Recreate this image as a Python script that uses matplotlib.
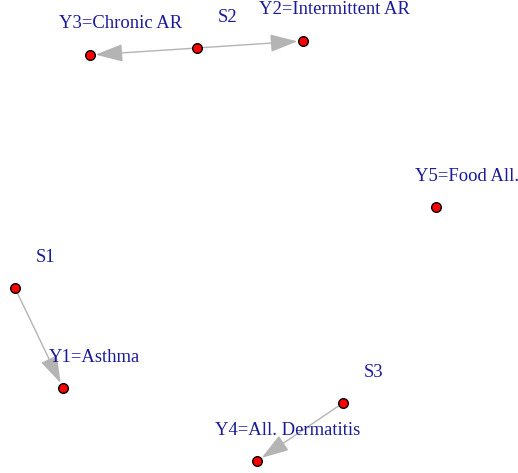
import matplotlib
matplotlib.use("Agg")
import matplotlib.pyplot as plt

# node layout (canvas units, y down)
names = ["S1", "S2", "S3", "Y1=Asthma", "Y2=Intermittent AR", "Y3=Chronic AR",
         "Y4=All. Dermatitis", "Y5=Food All."]
node_x = [15, 197, 343, 63, 303, 90, 257, 436]
node_y = [288, 48, 403, 388, 41, 55, 461, 207]

# directed edges: source -> target
edge_from = ["S1", "S2", "S2", "S3"]
edge_to = ["Y1=Asthma", "Y2=Intermittent AR", "Y3=Chronic AR", "Y4=All. Dermatitis"]

fig = plt.figure(figsize=(5.18, 4.73), dpi=100)
ax = fig.add_axes([0, 0, 1, 1])
ax.set_xlim(0, 518)
ax.set_ylim(473, 0)
ax.axis("off")

pos = {n: (x, y) for n, x, y in zip(names, node_x, node_y)}

for a, b in zip(edge_from, edge_to):
    ax.annotate("", xy=pos[b], xytext=pos[a],
                arrowprops=dict(arrowstyle="-|>,head_length=1.7,head_width=0.55",
                                color="#b4b4b4", lw=1, shrinkA=4, shrinkB=4),
                zorder=1)

ax.scatter(node_x, node_y, s=48, c="red", edgecolors="black", linewidths=1, zorder=3)

for n, x, y in zip(names, node_x, node_y):
    ax.text(x + 31, y - 31, n, ha="center", va="center", color="#1a1a9a",
            fontsize=13.4, family="Liberation Serif", zorder=4)

fig.savefig("out.png", dpi=100)
